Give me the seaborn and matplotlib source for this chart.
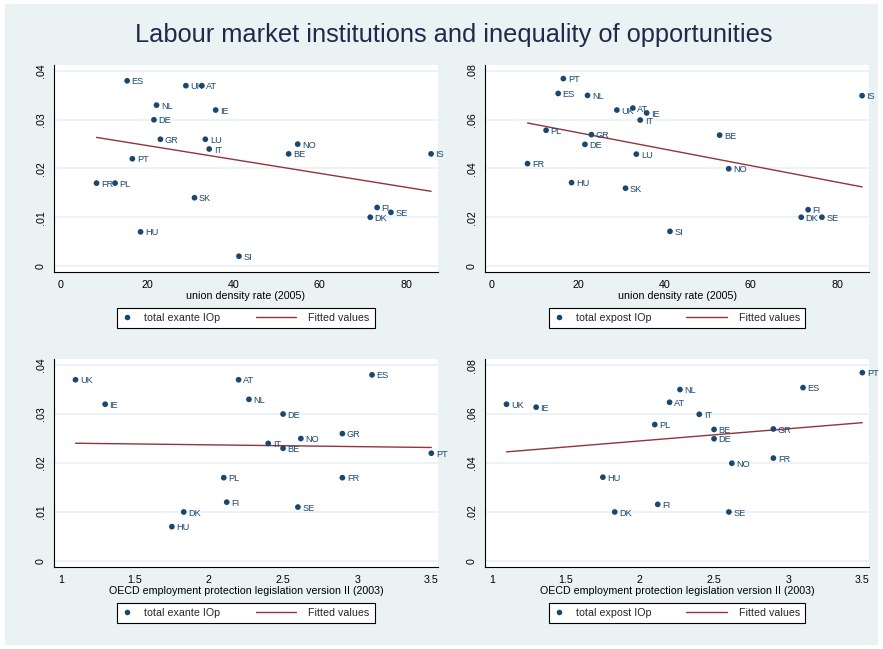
import numpy as np
import pandas as pd
import matplotlib
matplotlib.use("Agg")
import matplotlib.pyplot as plt
from matplotlib.lines import Line2D
from matplotlib.patches import Rectangle
from matplotlib.legend_handler import HandlerLine2D
import matplotlib.ticker as mticker
import seaborn as sns

# ---------------- data ----------------
countries = ['ES', 'UK', 'AT', 'NL', 'IE', 'DE', 'GR', 'LU', 'IT', 'NO', 'BE',
             'IS', 'PT', 'FR', 'PL', 'SK', 'FI', 'SE', 'DK', 'HU', 'SI']
union_density = [15.4, 29.0, 32.7, 22.2, 35.9, 21.6, 23.1, 33.5, 34.4, 54.9, 52.8,
                 85.8, 16.6, 8.3, 12.6, 31.0, 73.3, 76.5, 71.7, 18.5, 41.3]
epl_2003 = [3.10, 1.10, 2.20, 2.27, 1.30, 2.50, 2.90, np.nan, 2.40, 2.62, 2.50,
            np.nan, 3.50, 2.90, 2.10, np.nan, 2.12, 2.60, 1.83, 1.75, np.nan]
exante_iop = [0.038, 0.037, 0.037, 0.033, 0.032, 0.030, 0.026, 0.026, 0.024, 0.025, 0.023,
              0.023, 0.022, 0.017, 0.017, 0.014, 0.012, 0.011, 0.010, 0.007, 0.002]
expost_iop = [0.0708, 0.0640, 0.0648, 0.0700, 0.0628, 0.0499, 0.0539, 0.0459, 0.0599, 0.0399, 0.0537,
              0.0699, 0.0769, 0.0420, 0.0557, 0.0319, 0.0231, 0.0200, 0.0200, 0.0342, 0.0142]

title = "Labour market institutions and inequality of opportunities"
xlabel_ud = "union density rate (2005)"
xlabel_epl = "OECD employment protection legislation version II (2003)"
ud_ticks = [0, 20, 40, 60, 80]
epl_ticks = [1, 1.5, 2, 2.5, 3, 3.5]
exante_ticks = [0, 0.01, 0.02, 0.03, 0.04]
expost_ticks = [0, 0.02, 0.04, 0.06, 0.08]

df = pd.DataFrame({'country': countries, 'ud': union_density, 'epl': epl_2003,
                   'exante': exante_iop, 'expost': expost_iop})

# ---------------- style ----------------
sns.set_style("white")
plt.rcParams['font.family'] = ['Liberation Sans', 'DejaVu Sans']

NAVY = '#1a476f'
MAROON = '#90353b'
BG = '#eaf2f3'
FS = 7.7

W, H = 883, 649
fig = plt.figure(figsize=(W / 100, H / 100), dpi=100)
fig.patch.set_facecolor('white')
fig.patches.append(Rectangle((5 / W, 4 / H), 873 / W, 641 / H, transform=fig.transFigure,
                             facecolor=BG, edgecolor='none', zorder=-10))

fig.text(454 / W, 1 - 35 / H, title, ha='center', va='center', fontsize=18.3,
         color='#1f2a4a', family=['Liberation Sans', 'DejaVu Sans'])


class LongLine(HandlerLine2D):
    def get_xdata(self, legend, xdescent, ydescent, width, height, fontsize):
        x1 = -xdescent + width
        x0 = x1 - 3.83 * fontsize
        return [x0, x1], [0.5 * (x0 + x1)]


def fmt(v, pos):
    if abs(v) < 1e-12:
        return '0'
    return ('%.2f' % v).lstrip('0')


panels = [
    (54, 65, 272, 'ud', 'exante', (-1.55, 87.4), 0.04, ud_ticks, exante_ticks, xlabel_ud, 'total exante IOp'),
    (485, 65, 272, 'ud', 'expost', (-1.55, 87.4), 0.08, ud_ticks, expost_ticks, xlabel_ud, 'total expost IOp'),
    (54, 359, 567, 'epl', 'exante', (0.955, 3.545), 0.04, epl_ticks, exante_ticks, xlabel_epl, 'total exante IOp'),
    (485, 359, 567, 'epl', 'expost', (0.955, 3.545), 0.08, epl_ticks, expost_ticks, xlabel_epl, 'total expost IOp'),
]

for (lpx, tpx, bpx, xc, yc, xlim, ytop, xt, yt, xl, leglab) in panels:
    ax = fig.add_axes([lpx / W, 1 - bpx / H, 384 / W, (bpx - tpx) / H])
    ax.set_facecolor('white')
    d = df.dropna(subset=[xc])
    sns.regplot(data=d, x=xc, y=yc, scatter=False, ci=None, truncate=True, ax=ax,
                line_kws=dict(color=MAROON, lw=1.0, zorder=2))
    sns.scatterplot(data=d, x=xc, y=yc, ax=ax, color=NAVY, s=17, edgecolor='none', zorder=3,
                    legend=False)
    for _, r in d.iterrows():
        ax.annotate(r['country'], (r[xc], r[yc]), xytext=(3.2, -0.8), textcoords='offset points',
                    ha='left', va='center', fontsize=6.6, color=NAVY, zorder=4)
    ax.set_xlim(*xlim)
    ax.set_ylim(-0.031 * ytop, 1.031 * ytop)
    ax.set_xticks(xt)
    ax.set_yticks(yt)
    ax.xaxis.set_major_formatter(mticker.FuncFormatter(lambda v, p: ('%g' % v)))
    ax.yaxis.set_major_formatter(mticker.FuncFormatter(fmt))
    ax.yaxis.grid(True, color=BG, lw=1.3)
    ax.xaxis.grid(False)
    ax.set_axisbelow(True)
    for s in ['top', 'right']:
        ax.spines[s].set_visible(False)
    for s in ['left', 'bottom']:
        ax.spines[s].set_color('black')
        ax.spines[s].set_linewidth(0.8)
    ax.tick_params(axis='both', direction='out', length=3.5, width=0.8, color='black',
                   labelsize=FS, labelcolor='black')
    ax.tick_params(axis='x', pad=2.5)
    ax.tick_params(axis='y', pad=2.5, labelrotation=90)
    for lab in ax.get_yticklabels():
        lab.set_va('center')
    ax.set_xlabel(xl, fontsize=FS, color='black', labelpad=0.5)
    ax.set_ylabel('')

    h_pt = Line2D([], [], marker='o', linestyle='none', color=NAVY, markersize=4,
                  markeredgewidth=0)
    h_ln = Line2D([], [], color=MAROON, lw=1.0)
    leg = ax.legend([h_pt, h_ln], [leglab, 'Fitted values'], ncol=2, loc='upper center',
                    bbox_to_anchor=(0.5, -36 / (bpx - tpx)), borderaxespad=0,
                    fontsize=FS, frameon=True, fancybox=False, framealpha=1,
                    edgecolor='black', handlelength=0.94, handletextpad=1.12,
                    columnspacing=6.17, borderpad=0.45, numpoints=1,
                    handler_map={h_ln: LongLine()})
    leg.get_frame().set_linewidth(0.8)

fig.savefig('out.png', dpi=100)
